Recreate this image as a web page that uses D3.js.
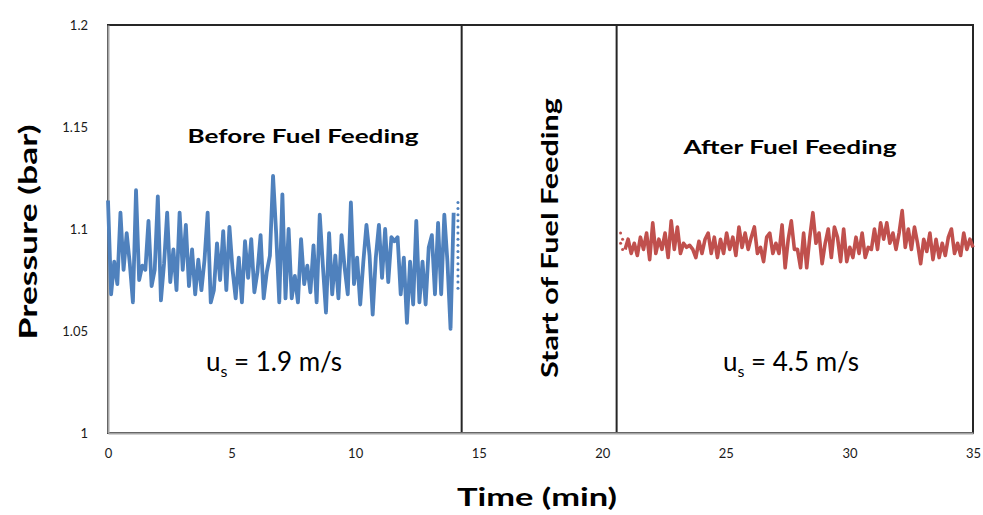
<!DOCTYPE html>
<html>
<head>
<meta charset="utf-8">
<script src="https://cdn.jsdelivr.net/npm/d3@7"></script>
<style>
  body { margin: 0; background: #fff; }
  svg { font-family: Lato, "Open Sans", sans-serif; }
</style>
</head>
<body>
<svg width="983" height="515"></svg>
<script>
// axis ticks
const timeTicks = [0, 5, 10, 15, 20, 25, 30, 35];
const pressureTicks = [1, 1.05, 1.1, 1.15, 1.2];

// before fuel feeding (u_s = 1.9 m/s), sampled every beforeStep min
const beforeStart = 0;
const beforeStep = 0.126;
const beforePressure = [
  1.114, 1.068, 1.084, 1.073, 1.108, 1.080, 1.098, 1.083, 1.064, 1.119,
  1.075, 1.082, 1.080, 1.104, 1.072, 1.080, 1.116, 1.065, 1.083, 1.108,
  1.074, 1.090, 1.070, 1.108, 1.080, 1.102, 1.072, 1.090, 1.068, 1.085,
  1.070, 1.085, 1.108, 1.064, 1.070, 1.093, 1.075, 1.099, 1.070, 1.101,
  1.080,
  1.066, 1.086, 1.064, 1.094, 1.076, 1.095, 1.069, 1.079, 1.097, 1.066,
  1.079, 1.087, 1.126, 1.098, 1.064, 1.117, 1.066, 1.100, 1.066, 1.077,
  1.064, 1.095, 1.073, 1.082, 1.069, 1.092, 1.064, 1.107, 1.082, 1.059,
  1.098, 1.068, 1.087, 1.066, 1.097, 1.081,
  1.068, 1.113, 1.073, 1.086, 1.063, 1.084, 1.102, 1.087, 1.058, 1.086,
  1.102, 1.076, 1.100, 1.074, 1.096, 1.094, 1.096, 1.068, 1.086, 1.054,
  1.084, 1.063, 1.104, 1.064, 1.084, 1.063, 1.091, 1.097, 1.068, 1.103,
  1.068, 1.107, 1.084, 1.051, 1.108
];
// dotted tail at the end of the first record
const beforeTailTime = 14.16;
const beforeTail = [1.113, 1.110, 1.107, 1.104, 1.101, 1.098, 1.095, 1.092,
  1.089, 1.086, 1.083, 1.080, 1.077, 1.074, 1.071];

// after fuel feeding (u_s = 4.5 m/s)
const afterStart = 20.92;
const afterStep = 0.1246;
const afterPressure = [
  1.090, 1.095, 1.088, 1.093, 1.087, 1.096, 1.090, 1.098, 1.085, 1.103,
  1.088, 1.095, 1.090, 1.098, 1.086, 1.104, 1.090, 1.101, 1.088, 1.093,
  1.091, 1.092, 1.090, 1.086, 1.094, 1.088, 1.095, 1.098, 1.088, 1.096,
  1.086, 1.095, 1.088, 1.098, 1.090, 1.096, 1.087, 1.101, 1.091, 1.098,
  1.090, 1.096, 1.101, 1.088, 1.091, 1.084, 1.096, 1.098, 1.088, 1.093,
  1.088, 1.102, 1.081, 1.095, 1.104, 1.090,
  1.090, 1.081, 1.098, 1.081, 1.096, 1.108, 1.093, 1.098, 1.083, 1.093,
  1.100, 1.086, 1.101, 1.096, 1.084, 1.100, 1.084, 1.091, 1.086, 1.096,
  1.088, 1.098, 1.086, 1.091, 1.090, 1.100, 1.090, 1.103, 1.095, 1.103,
  1.093, 1.098, 1.090, 1.098, 1.109, 1.091, 1.100, 1.090, 1.101, 1.093,
  1.083, 1.095, 1.089, 1.098, 1.085, 1.095, 1.086, 1.093, 1.087, 1.096,
  1.100, 1.088, 1.093, 1.087, 1.098, 1.090, 1.095, 1.091
];
const afterHeadTime = 20.74;
const afterHead = [1.098, 1.095, 1.093, 1.090];

// fuel feeding window (min)
const feedingStart = 14.31;
const feedingEnd = 20.58;

const canvas = d3.select("svg");
const plotLeft = 108;
const plotRight = 973;
const plotTop = 25;
const plotBottom = 433;

const xScale = d3.scaleLinear().domain([0, 35]).range([plotLeft, plotRight]);
const yScale = d3.scaleLinear().domain([1, 1.2]).range([plotBottom, plotTop]);

const blue = "#4f81bd";
const red = "#c0504d";

// outer frame
canvas
  .append("rect")
  .attr("x", plotLeft)
  .attr("y", plotTop)
  .attr("width", plotRight - plotLeft)
  .attr("height", plotBottom - plotTop)
  .attr("fill", "none")
  .attr("stroke", "#262626")
  .attr("stroke-width", 2);

// fuel feeding box
canvas
  .append("rect")
  .attr("x", xScale(feedingStart))
  .attr("y", plotTop)
  .attr("width", xScale(feedingEnd) - xScale(feedingStart))
  .attr("height", plotBottom - plotTop)
  .attr("fill", "none")
  .attr("stroke", "#262626")
  .attr("stroke-width", 2);

// axes
const xAxis = d3
  .axisBottom(xScale)
  .tickValues(timeTicks)
  .tickSize(0)
  .tickPadding(16)
  .tickFormat((d) => String(d));
const yAxis = d3
  .axisLeft(yScale)
  .tickValues(pressureTicks)
  .tickSize(0)
  .tickPadding(20)
  .tickFormat((d) => String(d));

const gx = canvas
  .append("g")
  .attr("transform", `translate(0, ${plotBottom})`)
  .call(xAxis);
const gy = canvas
  .append("g")
  .attr("transform", `translate(${plotLeft}, 0)`)
  .call(yAxis);

[gx, gy].forEach((g) => {
  g.select(".domain").attr("stroke", "#a6a6a6").attr("stroke-width", 2);
  g.selectAll("text")
    .attr("font-family", "Lato, sans-serif")
    .attr("font-size", 13)
    .attr("fill", "#1a1a1a");
});

// series
const line = d3
  .line()
  .x((d) => xScale(d.t))
  .y((d) => yScale(d.p));

const beforeData = beforePressure.map((p, i) => ({ t: beforeStart + i * beforeStep, p }));
const afterData = afterPressure.map((p, i) => ({ t: afterStart + i * afterStep, p }));

canvas
  .append("path")
  .datum(beforeData)
  .attr("d", line)
  .attr("fill", "none")
  .attr("stroke", blue)
  .attr("stroke-width", 3.8)
  .attr("stroke-linejoin", "round");

canvas
  .append("path")
  .datum(afterData)
  .attr("d", line)
  .attr("fill", "none")
  .attr("stroke", red)
  .attr("stroke-width", 3.6)
  .attr("stroke-linejoin", "round");

canvas
  .append("g")
  .selectAll("circle")
  .data(beforeTail)
  .join("circle")
  .attr("cx", xScale(beforeTailTime))
  .attr("cy", (d) => yScale(d))
  .attr("r", 1.5)
  .attr("fill", blue);

canvas
  .append("g")
  .selectAll("circle")
  .data(afterHead)
  .join("circle")
  .attr("cx", (d, i) => xScale(afterHeadTime) + (i % 2) * 2)
  .attr("cy", (d) => yScale(d))
  .attr("r", 1.5)
  .attr("fill", red);

// axis titles
canvas
  .append("text")
  .text("Time (min)")
  .attr("x", 537)
  .attr("y", 506)
  .attr("text-anchor", "middle")
  .attr("font-size", 25)
  .attr("font-weight", "bold")
  .attr("textLength", 160)
  .attr("lengthAdjust", "spacingAndGlyphs");

canvas
  .append("text")
  .text("Pressure (bar)")
  .attr("x", 0)
  .attr("y", 0)
  .attr("text-anchor", "middle")
  .attr("font-size", 25)
  .attr("font-weight", "bold")
  .attr("textLength", 215)
  .attr("lengthAdjust", "spacingAndGlyphs")
  .attr("transform", "translate(37, 232) rotate(-90)");

// annotations
canvas
  .append("text")
  .text("Before Fuel Feeding")
  .attr("x", 303)
  .attr("y", 143)
  .attr("text-anchor", "middle")
  .attr("font-size", 18)
  .attr("font-weight", "bold")
  .attr("textLength", 231)
  .attr("lengthAdjust", "spacingAndGlyphs");

canvas
  .append("text")
  .text("After Fuel Feeding")
  .attr("x", 790)
  .attr("y", 154)
  .attr("text-anchor", "middle")
  .attr("font-size", 18)
  .attr("font-weight", "bold")
  .attr("textLength", 213)
  .attr("lengthAdjust", "spacingAndGlyphs");

canvas
  .append("text")
  .text("Start of Fuel Feeding")
  .attr("x", 0)
  .attr("y", 0)
  .attr("text-anchor", "middle")
  .attr("font-size", 22)
  .attr("font-weight", "bold")
  .attr("textLength", 280)
  .attr("lengthAdjust", "spacingAndGlyphs")
  .attr("transform", "translate(558, 238) rotate(-90)");

function velocityLabel(x, value) {
  const t = canvas
    .append("text")
    .attr("x", x)
    .attr("y", 371)
    .attr("text-anchor", "middle")
    .attr("font-size", 26);
  t.append("tspan").text("u");
  t.append("tspan").attr("dy", 6).attr("font-size", 16).text("s");
  t.append("tspan").attr("dy", -6).text(` = ${value} m/s`);
}

velocityLabel(274, "1.9");
velocityLabel(791, "4.5");
</script>
</body>
</html>
